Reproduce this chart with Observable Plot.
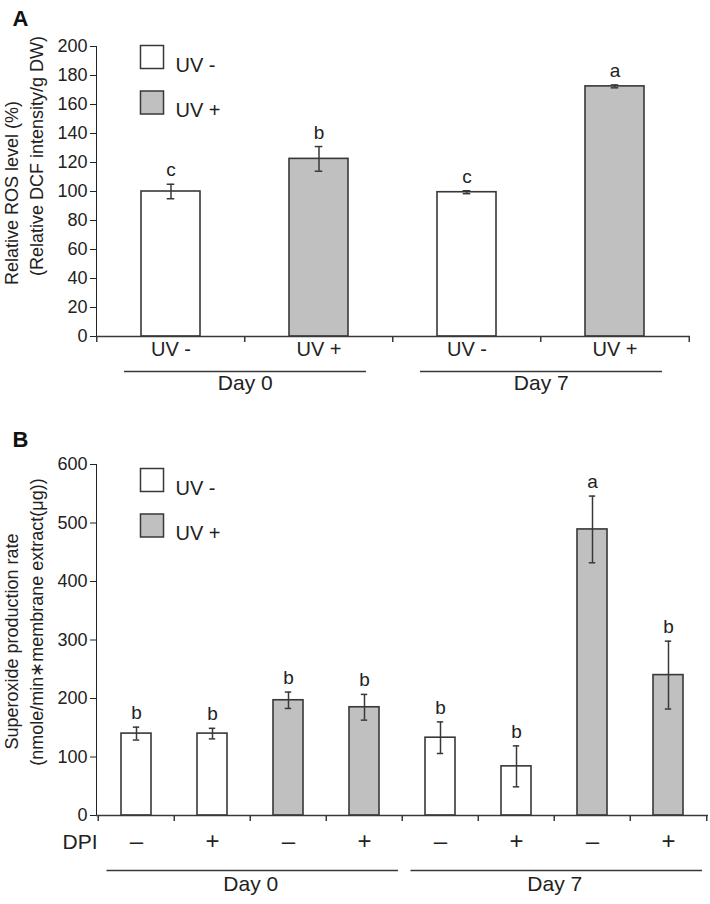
<!DOCTYPE html>
<html><head><meta charset="utf-8">
<script src="https://cdn.jsdelivr.net/npm/d3@7"></script>
<script src="https://cdn.jsdelivr.net/npm/@observablehq/plot@0.6"></script>
<style>
body{margin:0;background:#fff;}
#chart svg{display:block;}
</style></head><body><div id="chart"></div>
<script>
// ---------- shared ----------
const legendLabels = ["UV -", "UV +"];
const legendFills = ["#ffffff", "#c0c0c0"];
const groupNames = ["Day 0", "Day 7"];

// ---------- Panel A ----------
const aPanelLetter = "A";
const aYLabelLines = ["Relative ROS level (%)", "(Relative DCF intensity/g DW)"];
const aYTicks = [0, 20, 40, 60, 80, 100, 120, 140, 160, 180, 200];
const aDay = ["Day 0", "Day 0", "Day 7", "Day 7"];
const aUV = ["UV -", "UV +", "UV -", "UV +"];
const aMean = [100, 122.5, 99.5, 172.5];
const aErr = [5, 8.5, 1, 1];
const aLetter = ["c", "b", "c", "a"];

// ---------- Panel B ----------
const bPanelLetter = "B";
const bYLabelLines = ["Superoxide production rate", "(nmole/min\u2217membrane extract(\u03bcg))"];
const bYTicks = [0, 100, 200, 300, 400, 500, 600];
const bRowLabel = "DPI";
const bDay = ["Day 0", "Day 0", "Day 0", "Day 0", "Day 7", "Day 7", "Day 7", "Day 7"];
const bUV = ["UV -", "UV -", "UV +", "UV +", "UV -", "UV -", "UV +", "UV +"];
const bDPI = ["\u2013", "+", "\u2013", "+", "\u2013", "+", "\u2013", "+"];
const bMean = [140, 140, 197, 185, 133, 84, 489, 240];
const bErr = [11, 9, 14, 22, 27, 35, 57, 58];
const bLetter = ["b", "b", "b", "b", "b", "b", "a", "b"];

const FONT = "'Liberation Sans', Arial, Helvetica, sans-serif";
const INK = "#222222";
const EDGE = "#383838";

function panel(cfg) {
  const {data, width, height, mt, mb, ml, mr, yDomain, yTicks, yLabelLines, yLabelShift, letter,
         letterDy, labelDy, labelSize, groupLineDy, groupLabelDy, capW, legendDy, lineInset, rowLabel} = cfg;
  const keys = data.map(d => d.key);
  const n = keys.length;
  const step = (width - ml - mr) / n;
  const bw = step * 0.4;
  const groups = groupNames.map(g => {
    const members = data.filter(d => d.day === g);
    const mid = Math.floor((members.length - 1) / 2);
    return {name: g, first: members[0].key, last: members[members.length - 1].key,
            mid: members[mid].key, even: members.length % 2 === 0};
  });
  const legend = legendLabels.map((l, i) => ({label: l, i}));

  const marks = [
    Plot.barY(data, {x: "key", y: "mean", fill: "uv", stroke: EDGE, strokeWidth: 1.6}),
    Plot.ruleX(data, {x: "key", y1: d => d.mean - d.err, y2: d => d.mean + d.err, stroke: EDGE, strokeWidth: 1.5}),
    Plot.tickY(data, {x: "key", y: d => d.mean + d.err, stroke: EDGE, strokeWidth: 1.5, insetLeft: (bw - capW) / 2, insetRight: (bw - capW) / 2}),
    Plot.tickY(data, {x: "key", y: d => d.mean - d.err, stroke: EDGE, strokeWidth: 1.5, insetLeft: (bw - capW) / 2, insetRight: (bw - capW) / 2}),
    Plot.text(data, {x: "key", y: d => d.mean + d.err, text: "letter", lineAnchor: "bottom", dy: -8, fontSize: 19, fill: INK}),
    Plot.ruleY([0], {stroke: EDGE, strokeWidth: 1.6}),
    Plot.ruleX(keys, {x: d => d, y1: () => 0, y2: () => 0, insetBottom: -6, dx: -step / 2, stroke: EDGE, strokeWidth: 1.5}),
    Plot.ruleX([keys[n - 1]], {x: d => d, y1: () => 0, y2: () => 0, insetBottom: -6, dx: step / 2, stroke: EDGE, strokeWidth: 1.5}),
    Plot.text(data, {x: "key", text: "tick", frameAnchor: "bottom", dy: labelDy, fontSize: labelSize, fill: INK}),
    Plot.ruleY(groups, {x1: "first", x2: "last", y: () => 0, dy: groupLineDy, insetLeft: lineInset[0], insetRight: lineInset[1], stroke: EDGE, strokeWidth: 1.3}),
    Plot.text(groups, {x: "mid", text: "name", frameAnchor: "bottom", dy: groupLabelDy, dx: groups[0].even ? step / 2 : 0, fontSize: 21, fill: INK}),
    Plot.text([yLabelLines[0]], {frameAnchor: "left", textAnchor: "middle", rotate: -90, dx: -84, dy: 1.5, fontSize: 18, fill: INK}),
    Plot.text([yLabelLines[1]], {frameAnchor: "left", textAnchor: "middle", rotate: -90, dx: -59, dy: yLabelShift, fontSize: 18, fill: INK}),
    Plot.text([letter], {frameAnchor: "top-left", textAnchor: "start", lineAnchor: "top", dx: -84, dy: letterDy, fontSize: 22, fontWeight: "bold", fill: "#111"})
  ];
  legend.forEach(item => {
    marks.push(Plot.dot([item], {frameAnchor: "top-left", symbol: "square", r: 13, fill: d => d.label, stroke: EDGE, strokeWidth: 1.5, dx: 55.5, dy: legendDy + item.i * 45.5}));
    marks.push(Plot.text([item], {frameAnchor: "top-left", text: "label", textAnchor: "start", dx: 79, dy: legendDy + 0.5 + item.i * 45.5, fontSize: 20, fill: INK}));
  });
  if (rowLabel) {
    marks.push(Plot.text([rowLabel], {frameAnchor: "bottom-left", textAnchor: "end", dx: 1, dy: labelDy, fontSize: 21, fill: INK}));
  }

  return Plot.plot({
    width, height,
    marginTop: mt, marginBottom: mb, marginLeft: ml, marginRight: mr,
    style: {fontFamily: FONT, fontSize: "18px", color: INK, background: "#fff"},
    x: {domain: keys, paddingInner: 0.6, paddingOuter: 0.3, axis: null},
    y: {domain: yDomain, ticks: yTicks, label: null, line: true, tickSize: 6, tickPadding: 3},
    color: {domain: legendLabels, range: legendFills},
    marks
  });
}

const aData = aDay.map((d, i) => ({key: d + "|" + aUV[i], day: d, uv: aUV[i], tick: aUV[i], mean: aMean[i], err: aErr[i], letter: aLetter[i]}));
const bData = bDay.map((d, i) => ({key: d + "|" + bUV[i] + "|" + i, day: d, uv: bUV[i], tick: bDPI[i], mean: bMean[i], err: bErr[i], letter: bLetter[i]}));

const chart = document.getElementById("chart");
chart.appendChild(panel({
  data: aData, width: 710, height: 420, mt: 46, mb: 84, ml: 96, mr: 20,
  yDomain: [0, 200], yTicks: aYTicks, yLabelLines: aYLabelLines, yLabelShift: -35.5, letter: aPanelLetter, letterDy: -36,
  labelDy: 19, labelSize: 20, groupLineDy: 35, groupLabelDy: 53, capW: 8, legendDy: 10.5, lineInset: [-17, -18]
}));
chart.appendChild(panel({
  data: bData, width: 710, height: 484, mt: 44, mb: 89, ml: 96, mr: 2,
  yDomain: [0, 600], yTicks: bYTicks, yLabelLines: bYLabelLines, yLabelShift: -18, letter: bPanelLetter, letterDy: -33,
  labelDy: 33, labelSize: 24, groupLineDy: 55, groupLabelDy: 75.5, capW: 7, legendDy: 15.5, lineInset: [-14.5, -19], rowLabel: bRowLabel
}));
</script></body></html>
